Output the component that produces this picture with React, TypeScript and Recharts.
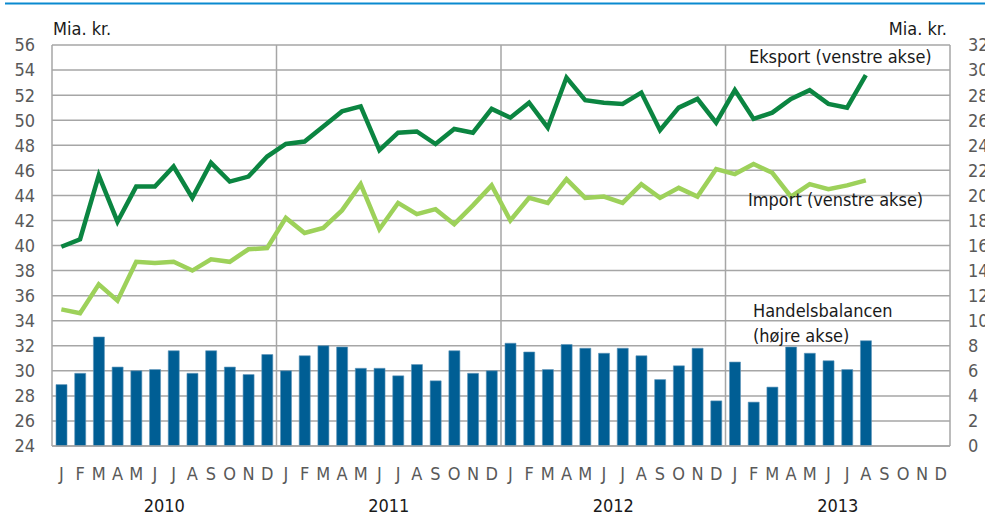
import { ComposedChart, Bar, Line, XAxis, YAxis, CartesianGrid } from "recharts";

const FONT = "'Liberation Sans Narrow', 'Arial Narrow', 'DejaVu Sans Condensed', sans-serif";
const GRID = "#a6a6a6";
const TICK = "#595959";
const EKSPORT_C = "#0b8541";
const IMPORT_C = "#9dd15a";
const BAR_C = "#005e94";

const MONTHS = ["J", "F", "M", "A", "M", "J", "J", "A", "S", "O", "N", "D"];
const YEARS = [2010, 2011, 2012, 2013];

// Mia. kr., venstre akse
const eksport = [
  39.9, 40.5, 45.6, 41.9, 44.7, 44.7, 46.3, 43.8, 46.6, 45.1, 45.5, 47.1,
  48.1, 48.3, 49.5, 50.7, 51.1, 47.6, 49.0, 49.1, 48.1, 49.3, 49.0, 50.9,
  50.2, 51.4, 49.4, 53.4, 51.6, 51.4, 51.3, 52.2, 49.2, 51.0, 51.7, 49.8,
  52.4, 50.1, 50.6, 51.7, 52.4, 51.3, 51.0, 53.6,
];
const importV = [
  34.9, 34.6, 36.9, 35.6, 38.7, 38.6, 38.7, 38.0, 38.9, 38.7, 39.7, 39.8,
  42.2, 41.0, 41.4, 42.8, 44.9, 41.3, 43.4, 42.5, 42.9, 41.7, 43.2, 44.8,
  42.0, 43.8, 43.4, 45.3, 43.8, 43.9, 43.4, 44.9, 43.8, 44.6, 43.9, 46.1,
  45.7, 46.5, 45.8, 43.9, 44.9, 44.5, 44.8, 45.2,
];
// Mia. kr., højre akse
const balance = [
  4.9, 5.8, 8.7, 6.3, 6.0, 6.1, 7.6, 5.8, 7.6, 6.3, 5.7, 7.3,
  6.0, 7.2, 8.0, 7.9, 6.2, 6.2, 5.6, 6.5, 5.2, 7.6, 5.8, 6.0,
  8.2, 7.5, 6.1, 8.1, 7.8, 7.4, 7.8, 7.2, 5.3, 6.4, 7.8, 3.6,
  6.7, 3.5, 4.7, 7.9, 7.4, 6.8, 6.1, 8.4,
];

const leftTicks = [24, 26, 28, 30, 32, 34, 36, 38, 40, 42, 44, 46, 48, 50, 52, 54, 56];
const rightTicks = [0, 2, 4, 6, 8, 10, 12, 14, 16, 18, 20, 22, 24, 26, 28, 30, 32];

const data = YEARS.flatMap((yr, yi) =>
  MONTHS.map((m, mi) => {
    const i = yi * 12 + mi;
    return {
      key: `${yr}-${mi + 1}`,
      month: m,
      year: yr,
      eksport: i < eksport.length ? eksport[i] : null,
      import: i < importV.length ? importV[i] : null,
      balance: i < balance.length ? balance[i] : null,
    };
  })
);

function MonthTick(props: any) {
  const { x, y, index } = props;
  const d = data[index];
  if (!d) return null;
  const slot = 898 / data.length;
  return (
    <g>
      <text x={x} y={y + 27} textAnchor="middle" dominantBaseline="middle" fill={TICK} fontSize={18} fontFamily={FONT}>
        {d.month}
      </text>
      {index % 12 === 6 && (
        <text x={x - slot / 2} y={y + 59} textAnchor="middle" dominantBaseline="middle" fill="#1a1a1a" fontSize={18} fontFamily={FONT}>
          {d.year}
        </text>
      )}
    </g>
  );
}

export default function App() {
  const textStyle = { fontFamily: FONT, fontSize: 18, fill: "#1a1a1a" };
  return (
    <div style={{ position: "absolute", left: 0, top: 0, width: 985, height: 516, background: "#fff" }}>
      <ComposedChart width={985} height={516} data={data} margin={{ top: 45, right: 0, bottom: 0, left: 0 }} barCategoryGap={0}>
        <CartesianGrid
          yAxisId="left"
          stroke={GRID}
          strokeWidth={1.5}
          vertical={true}
          verticalCoordinatesGenerator={({ offset }: any) =>
            [1, 2, 3].map((k) => offset.left + (offset.width * k) / 4)
          }
        />
        <XAxis
          dataKey="key"
          interval={0}
          tick={<MonthTick />}
          tickLine={false}
          tickSize={0}
          height={70}
          axisLine={{ stroke: GRID, strokeWidth: 1.5 }}
        />
        <YAxis
          yAxisId="left"
          orientation="left"
          domain={[24, 56]}
          ticks={leftTicks}
          interval={0}
          width={52}
          tickLine={false}
          tickSize={0}
          tickMargin={17}
          axisLine={{ stroke: GRID, strokeWidth: 1.5 }}
          tick={{ fill: TICK, fontSize: 18, fontFamily: FONT }}
        />
        <YAxis
          yAxisId="right"
          orientation="right"
          domain={[0, 32]}
          ticks={rightTicks}
          interval={0}
          width={35}
          tickLine={false}
          tickSize={0}
          tickMargin={18}
          axisLine={{ stroke: GRID, strokeWidth: 1.5 }}
          tick={{ fill: TICK, fontSize: 18, fontFamily: FONT, textAnchor: "start" }}
        />
        <Bar yAxisId="right" dataKey="balance" fill={BAR_C} stroke="#5c93b8" strokeWidth={0.6} barSize={11} isAnimationActive={false} />
        <Line yAxisId="left" type="linear" dataKey="import" stroke={IMPORT_C} strokeWidth={4.5} dot={false} activeDot={false} isAnimationActive={false} />
        <Line yAxisId="left" type="linear" dataKey="eksport" stroke={EKSPORT_C} strokeWidth={4.5} dot={false} activeDot={false} isAnimationActive={false} />
      </ComposedChart>
      <svg width={985} height={516} style={{ position: "absolute", left: 0, top: 0, pointerEvents: "none" }}>
        <line x1={5} x2={985} y1={3.5} y2={3.5} stroke="#0a8ad0" strokeWidth={2} />
        <text x={53} y={30} dominantBaseline="middle" {...textStyle}>Mia. kr.</text>
        <text x={947} y={30} textAnchor="end" dominantBaseline="middle" {...textStyle}>Mia. kr.</text>
        <text x={749} y={58} dominantBaseline="middle" {...textStyle}>Eksport (venstre akse)</text>
        <text x={748} y={201} dominantBaseline="middle" {...textStyle}>Import (venstre akse)</text>
        <text x={753} y={312} dominantBaseline="middle" {...textStyle}>Handelsbalancen</text>
        <text x={753} y={337} dominantBaseline="middle" {...textStyle}>(højre akse)</text>
      </svg>
    </div>
  );
}
